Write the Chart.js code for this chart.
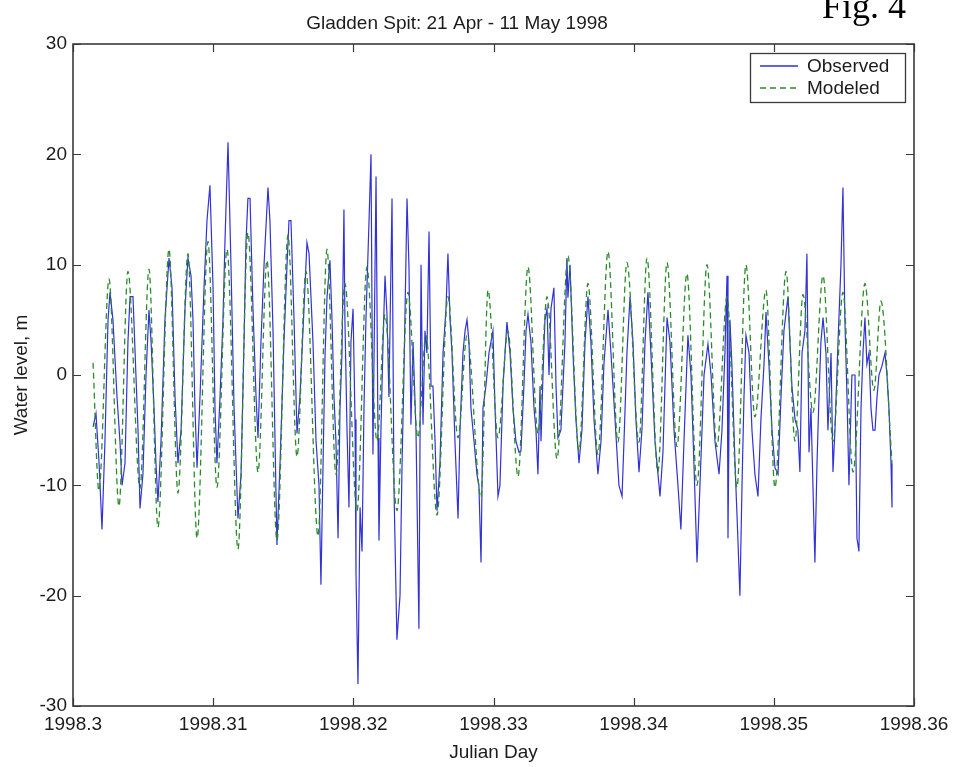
<!DOCTYPE html>
<html><head><meta charset="utf-8">
<script src="https://cdn.jsdelivr.net/npm/chart.js@4/dist/chart.umd.min.js"></script>
<style>html,body{margin:0;padding:0;background:#fff}#wrap{width:957px;height:767px;position:relative}</style>
</head><body><div id="wrap"><canvas id="c" width="957" height="767"></canvas></div>
<script>
const chartTitle = 'Gladden Spit: 21 Apr - 11 May 1998';
const xAxisTitle = 'Julian Day';
const yAxisTitle = 'Water level, m';
const seriesNames = ['Observed', 'Modeled'];
const figureLabel = 'Fig. 4';
const xTickValues = [1998.3, 1998.31, 1998.32, 1998.33, 1998.34, 1998.35, 1998.36];
const xTickLabels = ['1998.3', '1998.31', '1998.32', '1998.33', '1998.34', '1998.35', '1998.36'];
const yTickValues = [-30, -20, -10, 0, 10, 20, 30];
const yTickLabels = ['-30', '-20', '-10', '0', '10', '20', '30'];

const obsJulian = [
1998.30143,1998.30164,1998.30186,1998.30207,1998.30228,1998.30250,1998.30264,1998.30285,1998.30314,1998.30335,
1998.30350,1998.30371,1998.30392,1998.30407,1998.30428,1998.30449,1998.30464,1998.30478,1998.30499,1998.30521,
1998.30542,1998.30557,1998.30578,1998.30592,1998.30606,1998.30628,1998.30656,1998.30685,1998.30706,1998.30728,
1998.30749,1998.30771,1998.30799,1998.30820,1998.30842,1998.30856,1998.30870,1998.30885,1998.30906,1998.30935,
1998.30956,1998.30977,1998.30999,1998.31013,1998.31027,1998.31049,1998.31070,1998.31084,1998.31106,1998.31127,
1998.31149,1998.31177,1998.31199,1998.31220,1998.31234,1998.31248,1998.31263,1998.31284,1998.31306,1998.31320,
1998.31341,1998.31363,1998.31391,1998.31405,1998.31427,1998.31455,1998.31477,1998.31505,1998.31527,1998.31541,
1998.31555,1998.31577,1998.31598,1998.31619,1998.31648,1998.31669,1998.31684,1998.31712,1998.31734,1998.31755,
1998.31769,1998.31784,1998.31798,1998.31812,1998.31833,1998.31848,1998.31862,1998.31876,1998.31891,1998.31905,
1998.31919,1998.31933,1998.31940,1998.31955,1998.31969,1998.31983,1998.31998,1998.32012,1998.32019,1998.32033,
1998.32048,1998.32062,1998.32076,1998.32090,1998.32112,1998.32126,1998.32140,1998.32162,1998.32176,1998.32183,
1998.32197,1998.32212,1998.32226,1998.32240,1998.32254,1998.32276,1998.32290,1998.32311,1998.32333,1998.32347,
1998.32361,1998.32383,1998.32397,1998.32411,1998.32426,1998.32447,1998.32468,1998.32483,1998.32497,1998.32511,
1998.32525,1998.32540,1998.32554,1998.32568,1998.32583,1998.32597,1998.32618,1998.32640,1998.32661,1998.32675,
1998.32690,1998.32704,1998.32725,1998.32747,1998.32761,1998.32782,1998.32797,1998.32811,1998.32825,1998.32839,
1998.32861,1998.32882,1998.32896,1998.32911,1998.32925,1998.32946,1998.32968,1998.32996,1998.33011,1998.33032,
1998.33046,1998.33068,1998.33096,1998.33118,1998.33139,1998.33160,1998.33182,1998.33196,1998.33217,1998.33232,
1998.33246,1998.33267,1998.33289,1998.33303,1998.33317,1998.33332,1998.33339,1998.33353,1998.33367,1998.33382,
1998.33396,1998.33410,1998.33431,1998.33446,1998.33460,1998.33481,1998.33510,1998.33524,1998.33531,1998.33546,
1998.33567,1998.33588,1998.33610,1998.33631,1998.33653,1998.33674,1998.33695,1998.33717,1998.33745,1998.33767,
1998.33788,1998.33817,1998.33838,1998.33867,1998.33895,1998.33917,1998.33931,1998.33952,1998.33974,1998.33995,
1998.34016,1998.34038,1998.34059,1998.34081,1998.34102,1998.34123,1998.34152,1998.34188,1998.34209,1998.34238,
1998.34259,1998.34288,1998.34316,1998.34337,1998.34359,1998.34387,1998.34409,1998.34430,1998.34452,1998.34473,
1998.34502,1998.34530,1998.34552,1998.34580,1998.34609,1998.34630,1998.34651,1998.34666,1998.34673,1998.34687,
1998.34701,1998.34723,1998.34744,1998.34758,1998.34773,1998.34787,1998.34801,1998.34823,1998.34844,1998.34865,
1998.34887,1998.34908,1998.34930,1998.34944,1998.34965,1998.34987,1998.35008,1998.35030,1998.35051,1998.35072,
1998.35101,1998.35115,1998.35129,1998.35151,1998.35172,1998.35186,1998.35201,1998.35222,1998.35236,1998.35251,
1998.35265,1998.35279,1998.35293,1998.35308,1998.35322,1998.35336,1998.35351,1998.35372,1998.35386,1998.35408,
1998.35422,1998.35436,1998.35458,1998.35479,1998.35493,1998.35507,1998.35522,1998.35536,1998.35557,1998.35579,
1998.35593,1998.35607,1998.35622,1998.35636,1998.35650,1998.35664,1998.35679,1998.35693,1998.35707,1998.35722,
1998.35736,1998.35750,1998.35771,1998.35793,1998.35807,1998.35821,1998.35836,1998.35843
];
const obsLevel = [
-4.7,-3.5,-8,-14,-6,5,7.5,5,-2,-6,
-10,-8,3,7.1,7.1,0,-5,-12.1,-9,0,
5.9,3,-3,-8,-11.5,-6,5,10.6,8,-2,
-8,-5,6,10.6,9,5,-3,-8.4,-2,8,
14,17.2,8,-3,-8,-2,5,12,21.1,10,
-3,-13,-9,3,12,16,16,6,-2,-5.7,
3,10,17,14,4,-15.4,-8,3,10,14,
14,5,-5.3,-2,6,12,11,3,-6,-10,
-19,-8,1.7,7,10.4,5,-2,-6,-14.8,-3,
2,15,5,-5,-12,3,6,-4,-18,-28,
-12,-16,-3,5,14,20,-7.2,18,-5.7,-15,
-5,3,9,5.5,-2,16,-10.3,-24,-20,-8.4,
0,16,9.8,-4.5,3,-5,-23,10,-4.5,4,
2,13,-1,-1,-6,-12.3,-8,2,6,11,
5,2,-6,-13,-5,2,4,5,3,-3,
-6,-9,-10,-17,-3,-1,2,4,-3,-11,
-10,-1,4.8,2,-3,-6,-7,-6.9,-1,4,
5.5,3,-3,-5,-9,-1,-6,0,5,6,
0,6,7.9,-1,-5.7,-5,3,10.6,7,10,
2,-4,-8,-5,3,7.1,3,-4,-9,-6,
1,5.9,2,-4,-10,-11,-6,2,7.1,3,
-4,-8.8,-5,3,7.5,2,-6,-11,-7,5.2,
3,-5,-10,-14,-6,3.6,0,-8,-17,-10,
0,2.8,0,-6,-9,-5,2,9,-14.8,5,
0.9,-8,-15,-20,-10,-2,3.6,2,-5,-9,
-11,-4,1,5.7,1,-5,-8.4,-9,-2,4,
7.1,3,-1,-4,-5,-8.8,2,4,11,-7,
-3,-10,-17,-8,-2,3,5.2,2,-5,2,
-8.8,-5,3,10,17,5,-2,-10,0,0,
-14.8,-16,-3,2,5.2,1,2,-3,-5,-5,
-2,0,0.8,2,0,-3,-8,-12
];

const modJulian = [
1998.30143,1998.30185,1998.30257,1998.30328,1998.30392,1998.30478,1998.30542,1998.30606,1998.30685,1998.30749,
1998.30820,1998.30885,1998.30963,1998.31027,1998.31099,1998.31177,1998.31248,1998.31320,1998.31384,1998.31455,
1998.31534,1998.31598,1998.31662,1998.31748,1998.31812,1998.31876,1998.31940,1998.32026,1998.32097,1998.32169,
1998.32226,1998.32311,1998.32390,1998.32461,1998.32518,1998.32597,1998.32675,1998.32747,1998.32811,1998.32911,
1998.32961,1998.33032,1998.33103,1998.33175,1998.33246,1998.33317,1998.33382,1998.33453,1998.33531,1998.33610,
1998.33674,1998.33745,1998.33817,1998.33888,1998.33952,1998.34038,1998.34095,1998.34173,1998.34238,1998.34309,
1998.34380,1998.34452,1998.34523,1998.34594,1998.34666,1998.34737,1998.34801,1998.34865,1998.34944,1998.35008,
1998.35087,1998.35151,1998.35208,1998.35279,1998.35351,1998.35422,1998.35493,1998.35565,1998.35650,1998.35714,
1998.35764,1998.35843
];
const modLevel = [
1.1,-10.5,8.7,-11.9,9.4,-10.3,9.6,-13.8,11.4,-10.7,
11,-14.8,12.1,-10.2,11.4,-15.8,12.9,-8.8,10.4,-15,
12.7,-7.4,9.4,-14.6,11.4,-9,8.3,-12.3,9.8,-6,
5.5,-12.3,7.5,-5.7,3.6,-12.7,7.1,-5.7,3.6,-11.1,
7.7,-5.7,4,-9.2,9.8,-5.3,7.1,-7.6,10.8,-6.9,
8.3,-7.2,11.2,-6.1,10.2,-6.1,10.6,-8.8,10.2,-6.5,
9.2,-10,10,-6.5,7.1,-10.2,10,-3.8,7.7,-10.2,
9.4,-6,7.3,-3.4,9,-6,7.5,-8.8,8.3,-1.4,
6.7,-8
];

const FONT = "'Liberation Sans', Arial, Helvetica, sans-serif";
const TEXT = '#1c1c1c';
const AXIS = '#3a3a3a';
const OBS_COLOR = 'rgb(50,50,215)';
const MOD_COLOR = 'rgb(40,140,40)';
const MOD_DASH = [6, 4];

const framePlugin = {
  id: 'frame',
  afterDraw(chart) {
    const {ctx, chartArea: a, scales: {x, y}} = chart;
    ctx.save();
    ctx.strokeStyle = AXIS;
    ctx.lineWidth = 1.2;
    const L = 8;
    ctx.beginPath();
    xTickValues.forEach(v => {
      const px = Math.round(x.getPixelForValue(v)) + 0.5;
      ctx.moveTo(px, a.bottom); ctx.lineTo(px, a.bottom - L);
      ctx.moveTo(px, a.top); ctx.lineTo(px, a.top + L);
    });
    yTickValues.forEach(v => {
      const py = Math.round(y.getPixelForValue(v)) + 0.5;
      ctx.moveTo(a.left, py); ctx.lineTo(a.left + L, py);
      ctx.moveTo(a.right, py); ctx.lineTo(a.right - L, py);
    });
    ctx.stroke();
    ctx.lineWidth = 1.6;
    ctx.strokeRect(a.left, a.top, a.right - a.left, a.bottom - a.top);

    const lx = 750, ly = 53, lw = 155, lh = 49;
    ctx.fillStyle = '#fff';
    ctx.fillRect(lx, ly, lw, lh);
    ctx.lineWidth = 1.3;
    ctx.strokeStyle = AXIS;
    ctx.strokeRect(lx + 0.5, ly + 0.5, lw, lh);
    const rows = [
      {name: seriesNames[0], color: OBS_COLOR, dash: [], y: ly + 13},
      {name: seriesNames[1], color: MOD_COLOR, dash: MOD_DASH, y: ly + 35}
    ];
    ctx.font = '19px ' + FONT;
    ctx.textBaseline = 'middle';
    ctx.textAlign = 'left';
    rows.forEach(r => {
      ctx.strokeStyle = r.color;
      ctx.lineWidth = 1.3;
      ctx.setLineDash(r.dash);
      ctx.beginPath();
      ctx.moveTo(lx + 10, r.y); ctx.lineTo(lx + 48, r.y);
      ctx.stroke();
      ctx.setLineDash([]);
      ctx.fillStyle = TEXT;
      ctx.fillText(r.name, lx + 57, r.y + 1);
    });

    ctx.font = "36px 'Liberation Serif', 'Times New Roman', serif";
    ctx.fillStyle = '#000';
    ctx.textBaseline = 'alphabetic';
    ctx.fillText(figureLabel, 822, 18);
    ctx.restore();
  }
};

const axisFont = {family: FONT, size: 19, weight: 'normal'};

new Chart(document.getElementById('c'), {
  type: 'line',
  data: {
    datasets: [
      {
        label: seriesNames[0],
        data: obsJulian.map((t, i) => ({x: t, y: obsLevel[i]})),
        borderColor: OBS_COLOR,
        borderWidth: 1.2,
        pointRadius: 0,
        tension: 0,
        fill: false,
        order: 2
      },
      {
        label: seriesNames[1],
        data: modJulian.map((t, i) => ({x: t, y: modLevel[i]})),
        borderColor: MOD_COLOR,
        borderWidth: 1.3,
        borderDash: MOD_DASH,
        pointRadius: 0,
        cubicInterpolationMode: 'monotone',
        fill: false,
        order: 1
      }
    ]
  },
  options: {
    responsive: false,
    animation: false,
    devicePixelRatio: 1,
    layout: {padding: {left: 0, right: 43, top: 0, bottom: 0}},
    plugins: {
      legend: {display: false},
      tooltip: {enabled: false},
      title: {
        display: true,
        text: chartTitle,
        color: TEXT,
        font: {family: FONT, size: 19, weight: 'normal'},
        padding: {top: 12, bottom: 9.2}
      }
    },
    scales: {
      x: {
        type: 'linear',
        min: xTickValues[0],
        max: xTickValues[xTickValues.length - 1],
        afterBuildTicks: s => { s.ticks = xTickValues.map(v => ({value: v})); },
        afterFit: s => { s.height = 61; },
        ticks: {
          callback: (v, i) => xTickLabels[i],
          color: TEXT, font: axisFont, padding: 7,
          maxRotation: 0, autoSkip: false
        },
        grid: {display: false, drawTicks: false},
        border: {display: false},
        title: {display: true, text: xAxisTitle, color: TEXT, font: axisFont, padding: {top: 0, bottom: 2.5}}
      },
      y: {
        type: 'linear',
        min: yTickValues[0],
        max: yTickValues[yTickValues.length - 1],
        afterBuildTicks: s => { s.ticks = yTickValues.map(v => ({value: v})); },
        afterFit: s => { s.width = 73; },
        ticks: {
          callback: (v, i) => yTickLabels[i],
          color: TEXT, font: axisFont, padding: 6
        },
        grid: {display: false, drawTicks: false},
        border: {display: false},
        title: {display: true, text: yAxisTitle, color: TEXT, font: axisFont, padding: {top: 10.6, bottom: 0}}
      }
    }
  },
  plugins: [framePlugin]
});
</script>
</body></html>
